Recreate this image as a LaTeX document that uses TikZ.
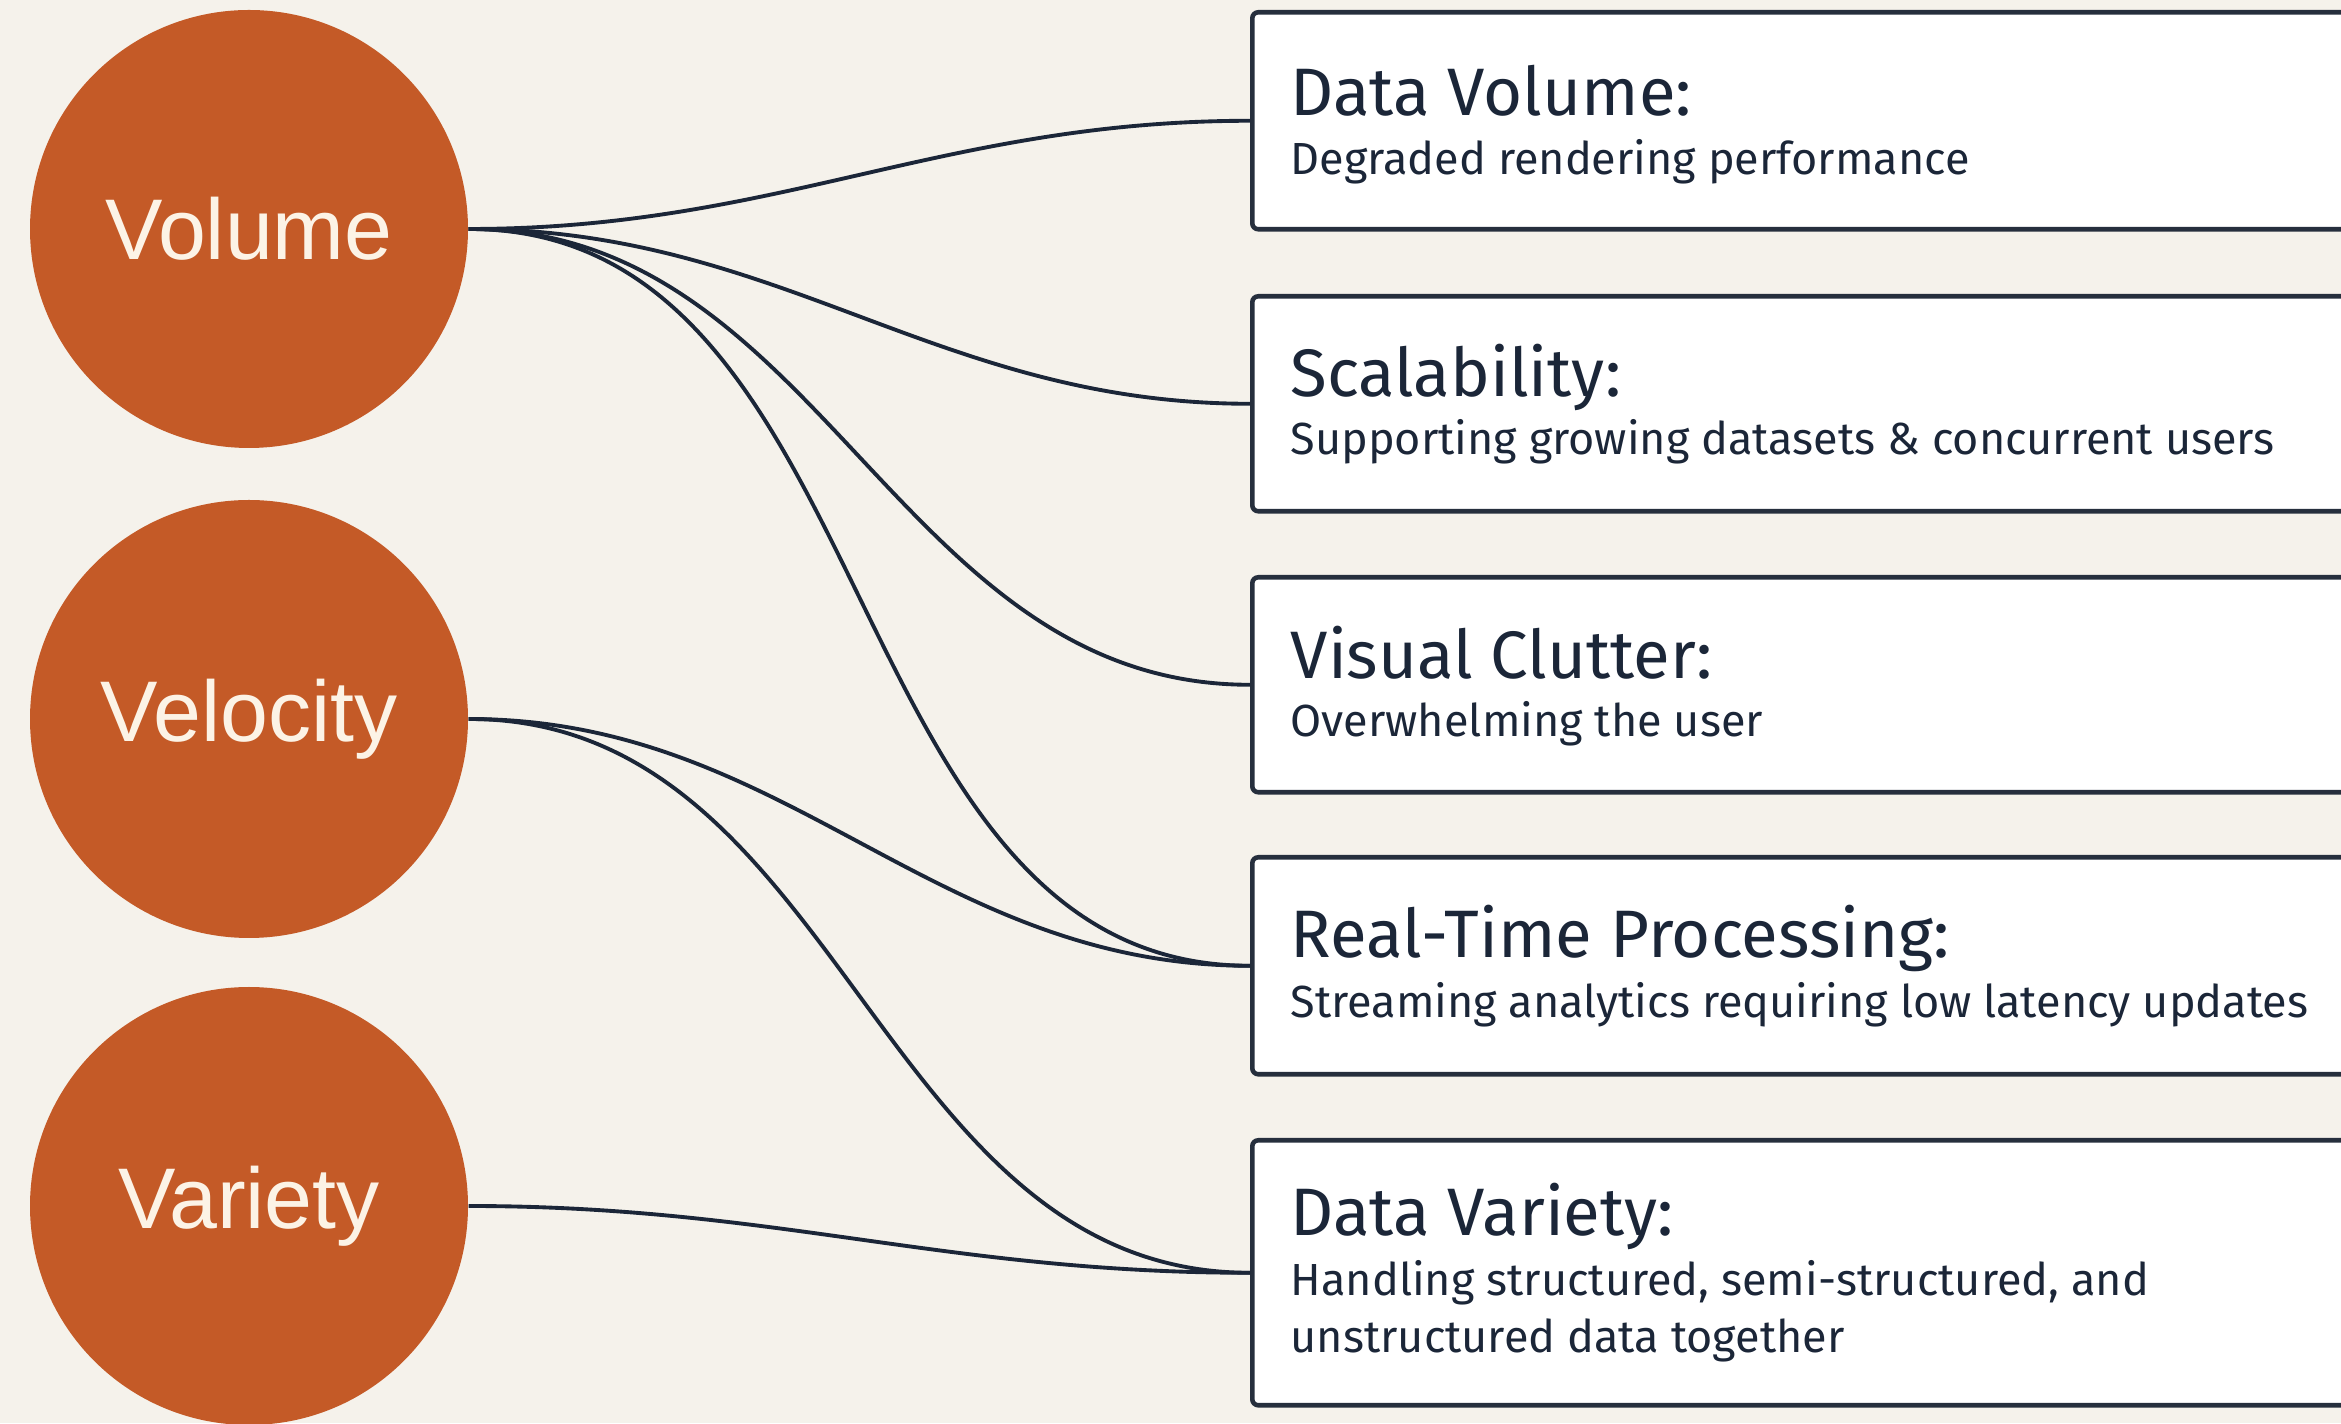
\documentclass[tikz,border=0pt]{standalone}
\usepackage{fontspec}
\setmainfont{Fira Sans}
\newfontfamily\circlefont{Liberation Sans}
\usetikzlibrary{calc}
\definecolor{paper}{HTML}{F5F2EB}
\definecolor{rust}{HTML}{C45A27}
\definecolor{ink}{HTML}{1B2638}
\definecolor{cream}{HTML}{FCF3E6}
\definecolor{boxline}{HTML}{262F3D}

\begin{document}
\begin{tikzpicture}[
  vee/.style={circle, fill=rust, minimum size=4.38cm, inner sep=0pt, text=cream,
    font=\circlefont\fontsize{24.5}{28}\selectfont},
  card/.style={draw=boxline, line width=1.3pt, fill=white, rounded corners=0.06cm,
    minimum width=12cm, anchor=north west, inner sep=0pt},
  heading/.style={anchor=base west, inner sep=0pt, text=ink, font=\fontsize{19.1}{22}\selectfont},
  detail/.style={anchor=base west, inner sep=0pt, text=ink, font=\fontsize{12.8}{16}\selectfont},
  link/.style={draw=ink, line width=1.1pt},
]
\useasboundingbox (0,0) rectangle (23.41,14.23);
\clip (0,0) rectangle (23.41,14.23);
\fill[paper] (0,0) rectangle (23.41,14.23);

% the three V's
\node[vee] (vol) at (2.49,11.94) {Volume};
\node[vee] (vel) at (2.49,7.04) {Velocity};
\node[vee] (var) at (2.49,2.17) {Variety};

% challenge cards
\node[card, minimum height=2.17cm] (b1) at (12.50,14.13) {};
\node[card, minimum height=2.15cm] (b2) at (12.50,11.29) {};
\node[card, minimum height=2.15cm] (b3) at (12.50,8.48) {};
\node[card, minimum height=2.17cm] (b4) at (12.50,5.68) {};
\node[card, minimum height=2.65cm] (b5) at (12.50,2.85) {};

\node[heading] (h1) at ($(b1.north west)+(0.40,-1.06)$) {Data Volume:};
\node[detail]  (d1) at ($(h1.base west)+(0,-0.59)$) {Degraded rendering performance};
\node[heading] (h2) at ($(b2.north west)+(0.40,-1.03)$) {Scalability:};
\node[detail]  (d2) at ($(h2.base west)+(0,-0.58)$) {Supporting growing datasets \& concurrent users};
\node[heading] (h3) at ($(b3.north west)+(0.40,-1.04)$) {Visual Clutter:};
\node[detail]  (d3) at ($(h3.base west)+(0,-0.58)$) {Overwhelming the user};
\node[heading] (h4) at ($(b4.north west)+(0.40,-1.03)$) {Real-Time Processing:};
\node[detail]  (d4) at ($(h4.base west)+(0,-0.60)$) {Streaming analytics requiring low latency updates};
\node[heading] (h5) at ($(b5.north west)+(0.40,-0.98)$) {Data Variety:};
\node[detail]  (d5) at ($(h5.base west)+(0,-0.60)$) {Handling structured, semi-structured, and};
\node[detail]  (d5b) at ($(d5.base west)+(0,-0.57)$) {unstructured data together};

% links from each V to the challenges it causes
\draw[link] (vol.east) to[out=0,in=180] (b1.west);
\draw[link] (vol.east) to[out=0,in=180] (b2.west);
\draw[link] (vol.east) to[out=0,in=180] (b3.west);
\draw[link] (vol.east) to[out=0,in=180] (b4.west);
\draw[link] (vel.east) to[out=0,in=180] (b4.west);
\draw[link] (vel.east) to[out=0,in=180] (b5.west);
\draw[link] (var.east) to[out=0,in=180] (b5.west);
\end{tikzpicture}
\end{document}
